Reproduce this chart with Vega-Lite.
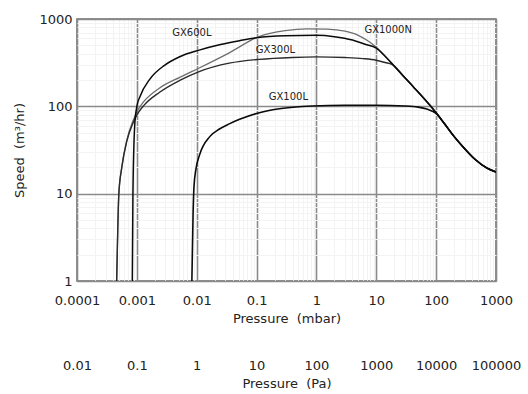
{
  "$schema": "https://vega.github.io/schema/vega-lite/v6.json",
  "width": 419,
  "height": 262,
  "autosize": "none",
  "padding": {"left": 77, "top": 19, "right": 32, "bottom": 113},
  "background": "white",
  "config": {
    "view": {"stroke": "#6a6a6a", "strokeWidth": 1.5},
    "font": "DejaVu Sans",
    "axis": {"labelColor": "#222", "titleColor": "#222", "titleFontWeight": "normal"}
  },
  "datasets": {
    "curves": [
      {"s": "GX1000N", "p": 0.00046, "v": 1},
      {"s": "GX1000N", "p": 0.00048, "v": 4},
      {"s": "GX1000N", "p": 0.0005, "v": 10},
      {"s": "GX1000N", "p": 0.00056, "v": 20},
      {"s": "GX1000N", "p": 0.00068, "v": 41},
      {"s": "GX1000N", "p": 0.00086, "v": 68},
      {"s": "GX1000N", "p": 0.00105, "v": 92},
      {"s": "GX1000N", "p": 0.0013, "v": 113},
      {"s": "GX1000N", "p": 0.0024, "v": 162},
      {"s": "GX1000N", "p": 0.0052, "v": 215},
      {"s": "GX1000N", "p": 0.011, "v": 275},
      {"s": "GX1000N", "p": 0.035, "v": 410},
      {"s": "GX1000N", "p": 0.11, "v": 630},
      {"s": "GX1000N", "p": 0.3, "v": 735},
      {"s": "GX1000N", "p": 0.7, "v": 770},
      {"s": "GX1000N", "p": 1.5, "v": 765},
      {"s": "GX1000N", "p": 3, "v": 725},
      {"s": "GX1000N", "p": 5, "v": 650},
      {"s": "GX1000N", "p": 7, "v": 570},
      {"s": "GX1000N", "p": 10, "v": 475},
      {"s": "GX1000N", "p": 14, "v": 378},
      {"s": "GX1000N", "p": 19.2, "v": 297},
      {"s": "GX1000N", "p": 28, "v": 224},
      {"s": "GX1000N", "p": 41.4, "v": 168},
      {"s": "GX1000N", "p": 89, "v": 93},
      {"s": "GX1000N", "p": 136, "v": 64},
      {"s": "GX1000N", "p": 200, "v": 45},
      {"s": "GX1000N", "p": 300, "v": 32.7},
      {"s": "GX1000N", "p": 450, "v": 24.6},
      {"s": "GX1000N", "p": 700, "v": 19.7},
      {"s": "GX1000N", "p": 1000, "v": 17.7},

      {"s": "GX300L", "p": 0.00046, "v": 1},
      {"s": "GX300L", "p": 0.00048, "v": 4},
      {"s": "GX300L", "p": 0.0005, "v": 10},
      {"s": "GX300L", "p": 0.00056, "v": 20},
      {"s": "GX300L", "p": 0.00068, "v": 40},
      {"s": "GX300L", "p": 0.00086, "v": 64},
      {"s": "GX300L", "p": 0.00105, "v": 84},
      {"s": "GX300L", "p": 0.0013, "v": 102},
      {"s": "GX300L", "p": 0.0024, "v": 145},
      {"s": "GX300L", "p": 0.0052, "v": 198},
      {"s": "GX300L", "p": 0.011, "v": 250},
      {"s": "GX300L", "p": 0.035, "v": 312},
      {"s": "GX300L", "p": 0.11, "v": 345},
      {"s": "GX300L", "p": 0.4, "v": 363},
      {"s": "GX300L", "p": 1, "v": 368},
      {"s": "GX300L", "p": 3, "v": 362},
      {"s": "GX300L", "p": 6, "v": 352},
      {"s": "GX300L", "p": 10, "v": 337},
      {"s": "GX300L", "p": 14, "v": 318},
      {"s": "GX300L", "p": 19.2, "v": 297},
      {"s": "GX300L", "p": 28, "v": 224},
      {"s": "GX300L", "p": 41.4, "v": 168},
      {"s": "GX300L", "p": 89, "v": 93},
      {"s": "GX300L", "p": 136, "v": 64},
      {"s": "GX300L", "p": 200, "v": 45},
      {"s": "GX300L", "p": 300, "v": 32.7},
      {"s": "GX300L", "p": 450, "v": 24.6},
      {"s": "GX300L", "p": 700, "v": 19.7},
      {"s": "GX300L", "p": 1000, "v": 17.7},

      {"s": "GX600L", "p": 0.00084, "v": 1},
      {"s": "GX600L", "p": 0.00086, "v": 10},
      {"s": "GX600L", "p": 0.00092, "v": 60},
      {"s": "GX600L", "p": 0.001, "v": 100},
      {"s": "GX600L", "p": 0.00112, "v": 128},
      {"s": "GX600L", "p": 0.00165, "v": 205},
      {"s": "GX600L", "p": 0.0029, "v": 295},
      {"s": "GX600L", "p": 0.0052, "v": 370},
      {"s": "GX600L", "p": 0.011, "v": 440},
      {"s": "GX600L", "p": 0.025, "v": 510},
      {"s": "GX600L", "p": 0.052, "v": 565},
      {"s": "GX600L", "p": 0.1, "v": 610},
      {"s": "GX600L", "p": 0.3, "v": 642},
      {"s": "GX600L", "p": 1, "v": 650},
      {"s": "GX600L", "p": 2, "v": 628},
      {"s": "GX600L", "p": 4, "v": 575},
      {"s": "GX600L", "p": 6.5, "v": 515},
      {"s": "GX600L", "p": 10, "v": 465},
      {"s": "GX600L", "p": 14, "v": 375},
      {"s": "GX600L", "p": 19.2, "v": 297},
      {"s": "GX600L", "p": 28, "v": 224},
      {"s": "GX600L", "p": 41.4, "v": 168},
      {"s": "GX600L", "p": 89, "v": 93},
      {"s": "GX600L", "p": 136, "v": 64},
      {"s": "GX600L", "p": 200, "v": 45},
      {"s": "GX600L", "p": 300, "v": 32.7},
      {"s": "GX600L", "p": 450, "v": 24.6},
      {"s": "GX600L", "p": 700, "v": 19.7},
      {"s": "GX600L", "p": 1000, "v": 17.7},

      {"s": "GX100L", "p": 0.0083, "v": 1},
      {"s": "GX100L", "p": 0.0087, "v": 6},
      {"s": "GX100L", "p": 0.009, "v": 12},
      {"s": "GX100L", "p": 0.0097, "v": 19},
      {"s": "GX100L", "p": 0.0112, "v": 28},
      {"s": "GX100L", "p": 0.0165, "v": 45},
      {"s": "GX100L", "p": 0.024, "v": 55},
      {"s": "GX100L", "p": 0.035, "v": 63},
      {"s": "GX100L", "p": 0.052, "v": 71},
      {"s": "GX100L", "p": 0.1, "v": 83},
      {"s": "GX100L", "p": 0.24, "v": 94},
      {"s": "GX100L", "p": 0.85, "v": 101},
      {"s": "GX100L", "p": 3, "v": 103},
      {"s": "GX100L", "p": 10, "v": 103},
      {"s": "GX100L", "p": 30, "v": 101},
      {"s": "GX100L", "p": 50, "v": 98},
      {"s": "GX100L", "p": 70, "v": 93},
      {"s": "GX100L", "p": 100, "v": 83},
      {"s": "GX100L", "p": 136, "v": 64},
      {"s": "GX100L", "p": 200, "v": 45},
      {"s": "GX100L", "p": 300, "v": 32.7},
      {"s": "GX100L", "p": 450, "v": 24.6},
      {"s": "GX100L", "p": 700, "v": 19.7},
      {"s": "GX100L", "p": 1000, "v": 17.7}
    ],
    "labels": [
      {"t": "GX600L", "p": 0.0083, "v": 692},
      {"t": "GX300L", "p": 0.207, "v": 443},
      {"t": "GX1000N", "p": 15.8, "v": 748},
      {"t": "GX100L", "p": 0.34, "v": 129}
    ],
    "pa": [
      {"pa": 0.01}, {"pa": 0.1}, {"pa": 1}, {"pa": 10}, {"pa": 100},
      {"pa": 1000}, {"pa": 10000}, {"pa": 100000}
    ]
  },
  "layer": [
    {
      "layer": [
        {
          "data": {"name": "curves"},
          "mark": {"type": "line", "interpolate": "monotone", "clip": true},
          "encoding": {
            "x": {
              "field": "p", "type": "quantitative",
              "scale": {"type": "log", "domain": [0.0001, 1000], "nice": false},
              "axis": {
                "values": [0.0001,0.0002,0.0003,0.0004,0.0005,0.0006,0.0007,0.0008,0.0009,
                           0.001,0.002,0.003,0.004,0.005,0.006,0.007,0.008,0.009,
                           0.01,0.02,0.03,0.04,0.05,0.06,0.07,0.08,0.09,
                           0.1,0.2,0.3,0.4,0.5,0.6,0.7,0.8,0.9,
                           1,2,3,4,5,6,7,8,9,
                           10,20,30,40,50,60,70,80,90,
                           100,200,300,400,500,600,700,800,900,1000],
                "labelExpr": "abs(log(datum.value)/LN10 - round(log(datum.value)/LN10)) < 0.01 ? format(datum.value, '~g') : ''",
                "gridColor": {"condition": {"test": "abs(log(datum.value)/LN10 - round(log(datum.value)/LN10)) < 0.01", "value": "#8a8a8a"}, "value": "#f3f3f3"},
                "gridWidth": {"condition": {"test": "abs(log(datum.value)/LN10 - round(log(datum.value)/LN10)) < 0.01", "value": 1.6}, "value": 1},
                "ticks": false,
                "domain": false,
                "labelOverlap": false,
                "labelFlush": false,
                "labelBound": false,
                "labelFontSize": 13,
                "labelPadding": 13,
                "title": "Pressure\u00a0 (mbar)",
                "titleFontSize": 13,
                "titlePadding": 5
              }
            },
            "y": {
              "field": "v", "type": "quantitative",
              "scale": {"type": "log", "domain": [1, 1000], "nice": false},
              "axis": {
                "values": [1,2,3,4,5,6,7,8,9,10,20,30,40,50,60,70,80,90,100,200,300,400,500,600,700,800,900,1000],
                "labelExpr": "abs(log(datum.value)/LN10 - round(log(datum.value)/LN10)) < 0.01 ? format(datum.value, '~g') : ''",
                "gridColor": {"condition": {"test": "abs(log(datum.value)/LN10 - round(log(datum.value)/LN10)) < 0.01", "value": "#8a8a8a"}, "value": "#f3f3f3"},
                "gridWidth": {"condition": {"test": "abs(log(datum.value)/LN10 - round(log(datum.value)/LN10)) < 0.01", "value": 1.6}, "value": 1},
                "ticks": false,
                "domain": false,
                "labelOverlap": false,
                "labelFlush": false,
                "labelBound": false,
                "labelFontSize": 13,
                "labelPadding": 5,
                "title": "Speed\u00a0 (m³/hr)",
                "titleFontSize": 13,
                "titlePadding": 12
              }
            },
            "detail": {"field": "s"},
            "color": {
              "field": "s", "type": "nominal", "legend": null,
              "scale": {"domain": ["GX1000N", "GX300L", "GX600L", "GX100L"], "range": ["#6e6e6e", "#2a2a2a", "#0a0a0a", "#0a0a0a"]}
            },
            "strokeWidth": {
              "field": "s", "type": "nominal", "legend": null,
              "scale": {"domain": ["GX1000N", "GX300L", "GX600L", "GX100L"], "range": [1.3, 1.6, 2.8, 2.6]}
            }
          }
        },
        {
          "data": {"name": "labels"},
          "mark": {"type": "text", "fontSize": 10, "color": "#222", "font": "DejaVu Sans"},
          "encoding": {
            "x": {"field": "p", "type": "quantitative", "scale": {"type": "log", "domain": [0.0001, 1000], "nice": false}},
            "y": {"field": "v", "type": "quantitative", "scale": {"type": "log", "domain": [1, 1000], "nice": false}},
            "text": {"field": "t"}
          }
        }
      ]
    },
    {
      "data": {"name": "pa"},
      "mark": {"type": "point", "opacity": 0},
      "encoding": {
        "x": {
          "field": "pa", "type": "quantitative",
          "scale": {"type": "log", "domain": [0.01, 100000], "nice": false},
          "axis": {
            "orient": "bottom",
            "offset": 65,
            "values": [0.01, 0.1, 1, 10, 100, 1000, 10000, 100000],
            "format": "~g",
            "grid": false,
            "ticks": false,
            "domain": false,
            "labelOverlap": false,
            "labelFlush": false,
            "labelBound": false,
            "labelFontSize": 13,
            "labelPadding": 13,
            "title": "Pressure\u00a0 (Pa)",
            "titleFontSize": 13,
            "titlePadding": 5
          }
        }
      }
    }
  ],
  "resolve": {"scale": {"x": "independent"}, "axis": {"x": "independent"}}
}
